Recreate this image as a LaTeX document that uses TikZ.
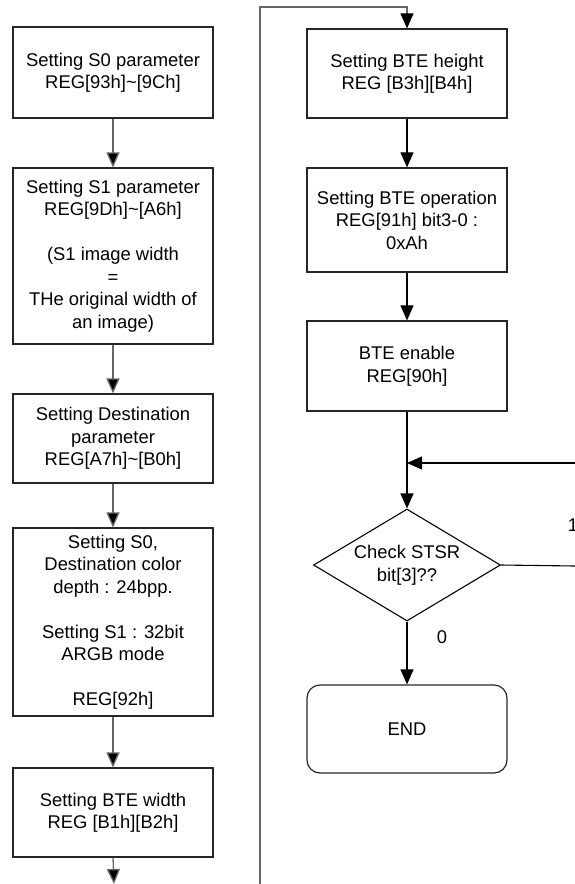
\documentclass[tikz,border=0pt]{standalone}
\usepackage{fontspec}
\setmainfont{Liberation Sans}
\usetikzlibrary{arrows.meta,shapes.geometric}
\begin{document}
\begin{tikzpicture}[x=1pt,y=-1pt,
  every node/.style={font=\fontsize{18.4}{22.5}\selectfont, align=center, inner sep=0pt},
  box/.style={draw=black!85, line width=1.2pt, minimum width=200pt, rectangle},
  endbox/.style={box, rounded corners=13pt},
  dec/.style={draw=black, line width=1.1pt, diamond, aspect=1.67, minimum width=187pt, minimum height=112pt},
  flowL/.style={draw=black!60, line width=1.3pt, -{Triangle[length=15pt,width=13pt,fill=black]}},
  flowR/.style={draw=black, line width=1.1pt, -{Triangle[length=15pt,width=13pt,fill=black]}},
  plainL/.style={draw=black!60, line width=1.3pt},
  plainR/.style={draw=black, line width=1.1pt}]
\useasboundingbox (0,0) rectangle (574,884);

% left column
\node[box, minimum height=91pt] (b1) at (113,72.5) {Setting S0 parameter\\REG[93h]\textasciitilde[9Ch]};
\node[box, minimum height=176pt] (b2) at (113,256) {Setting S1 parameter\\REG[9Dh]\textasciitilde[A6h]\\[22.5pt](S1 image width\\=\\THe original width of\\an image)};
\node[box, minimum height=89pt] (b3) at (113,438.5) {Setting Destination\\parameter\\REG[A7h]\textasciitilde[B0h]};
\node[box, minimum height=188pt] (b4) at (113,622) {Setting S0,\\Destination color\\depth : 24bpp.\\[22.5pt]Setting S1 : 32bit\\ARGB mode\\[22.5pt]REG[92h]};
\node[box, minimum height=89pt] (b5) at (113,812.5) {Setting BTE width\\REG [B1h][B2h]};
\coordinate (lout) at (114,884);

\draw[flowL] (b1) -- (b2);
\draw[flowL] (b2) -- (b3);
\draw[flowL] (b3) -- (b4);
\draw[flowL] (b4) -- (b5);
\draw[flowL] (b5.south) -- (lout);

% connector between columns
\coordinate (cbot) at (260,884);
\coordinate (ctop) at (260,7);

% right column
\node[box, minimum height=89pt] (b6) at (407,73.5) {Setting BTE height\\REG [B3h][B4h]};
\node[box, minimum height=104pt] (b7) at (407,220) {Setting BTE operation\\REG[91h] bit3-0 :\\0xAh};
\node[box, minimum height=90pt] (b8) at (407,366) {BTE enable\\REG[90h]};
\node[dec] (d1) at (407,565) {Check STSR\\bit[3]??};
\node[endbox, minimum height=88pt] (e1) at (407,729) {END};
\coordinate (j1) at (407,463);
\coordinate (rin) at (575,463);
\coordinate (rout) at (575,566);

\draw[plainL] (cbot) -- (ctop) -| (407,20);
\draw[flowR] (407,20) -- (b6.north);
\draw[flowR] (b6) -- (b7);
\draw[flowR] (b7) -- (b8);
\draw[flowR] (b8) -- (d1.north);
\draw[flowR] (rin) -- (j1);
\draw[plainR] (d1.east) -- (rout);
\draw[flowR] (d1.south) -- (e1.north);

\node (l0) at (442,637) {0};
\node (l1) at (573,525) {1};
\end{tikzpicture}
\end{document}
